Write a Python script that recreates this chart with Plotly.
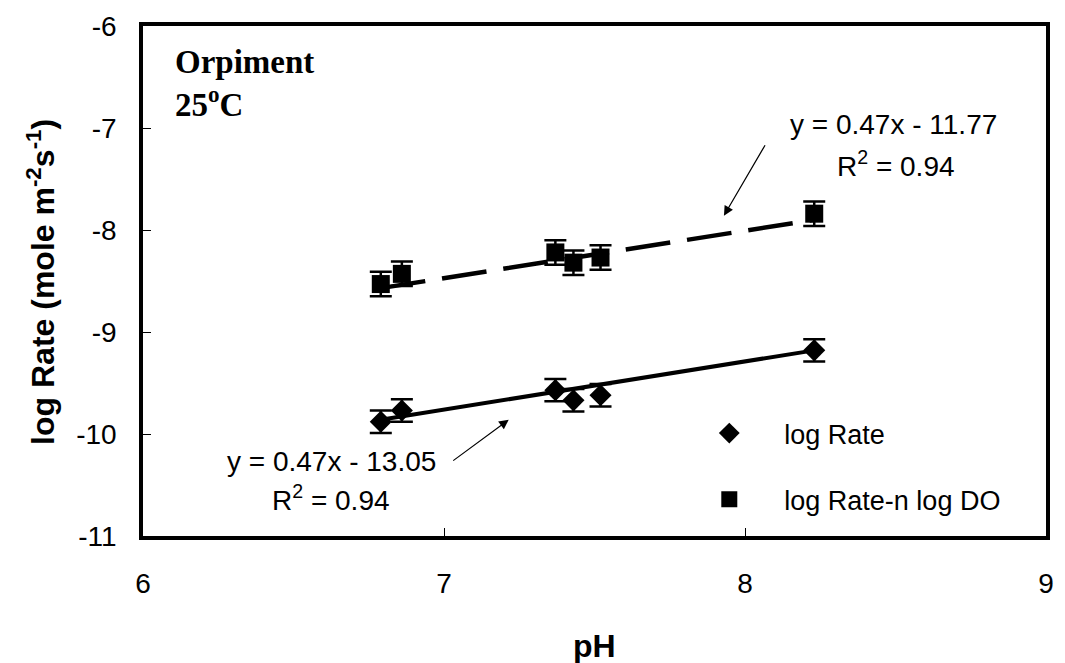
import plotly.graph_objects as go

# ---- data ----
ph = [6.79, 6.86, 7.37, 7.43, 7.52, 8.23]
log_rate = [-9.88, -9.77, -9.57, -9.67, -9.62, -9.18]
log_rate_err = [0.11, 0.11, 0.11, 0.11, 0.11, 0.11]
log_rate_do = [-8.53, -8.43, -8.22, -8.32, -8.27, -7.84]
log_rate_do_err = [0.12, 0.12, 0.12, 0.12, 0.12, 0.12]

trend_ph = [6.79, 8.23]
trend_rate = [-9.86, -9.18]
trend_rate_do = [-8.57, -7.90]

x_ticks = [6, 7, 8, 9]
y_ticks = [-11, -10, -9, -8, -7, -6]

W, H = 1065, 663
L, R, T, B = 143, 1054, 22, 536
SANS = "Liberation Sans, Arial, sans-serif"
SERIF = "Liberation Serif, Times New Roman, serif"


def px_x(p):
    return (p - L) / (R - L)


def px_y(p):
    return (B - p) / (B - T)


fig = go.Figure()

fig.add_trace(go.Scatter(
    x=trend_ph, y=trend_rate, mode="lines",
    line=dict(color="black", width=4), showlegend=False, hoverinfo="skip"))
fig.add_trace(go.Scatter(
    x=trend_ph, y=trend_rate_do, mode="lines",
    line=dict(color="black", width=4.5, dash="45px,17px"), showlegend=False, hoverinfo="skip"))

fig.add_trace(go.Scatter(
    x=ph, y=log_rate, mode="markers", name="log Rate", legendgroup="a",
    marker=dict(symbol="diamond", size=17, color="black"),
    error_y=dict(type="data", array=log_rate_err, color="black", thickness=2.5, width=11)))
fig.add_trace(go.Scatter(
    x=ph, y=log_rate_do, mode="markers", name="log Rate-n log DO", legendgroup="b",
    marker=dict(symbol="square", size=18, color="black"),
    error_y=dict(type="data", array=log_rate_do_err, color="black", thickness=2.5, width=11)))

ann = []
ann.append(dict(text="<b>Orpiment</b>", xref="paper", yref="paper", x=px_x(173), y=px_y(58),
                xanchor="left", yanchor="middle", showarrow=False,
                font=dict(family=SERIF, size=33, color="black")))
ann.append(dict(text="<b>25<sup>o</sup>C</b>", xref="paper", yref="paper", x=px_x(173), y=px_y(99),
                xanchor="left", yanchor="middle", showarrow=False,
                font=dict(family=SERIF, size=33, color="black")))

eq_font = dict(family=SANS, size=28, color="black")
ann.append(dict(text="y = 0.47x - 11.77", xref="paper", yref="paper", x=px_x(900), y=px_y(121),
                xanchor="center", yanchor="middle", showarrow=False, font=eq_font))
ann.append(dict(text="R<sup>2</sup> = 0.94", xref="paper", yref="paper", x=px_x(903), y=px_y(161),
                xanchor="center", yanchor="middle", showarrow=False, font=eq_font))
ann.append(dict(text="y = 0.47x - 13.05", xref="paper", yref="paper", x=px_x(333), y=px_y(461),
                xanchor="center", yanchor="middle", showarrow=False, font=eq_font))
ann.append(dict(text="R<sup>2</sup> = 0.94", xref="paper", yref="paper", x=px_x(333), y=px_y(498),
                xanchor="center", yanchor="middle", showarrow=False, font=eq_font))

# arrows
ann.append(dict(text="", x=7.93, y=-7.86, xref="x", yref="y", showarrow=True,
                ax=42, ay=-72, arrowhead=2, arrowsize=1.6, arrowwidth=1.2, arrowcolor="black"))
ann.append(dict(text="", x=7.215, y=-9.86, xref="x", yref="y", showarrow=True,
                ax=-57, ay=42, arrowhead=2, arrowsize=1.6, arrowwidth=1.2, arrowcolor="black"))

# axis titles
ann.append(dict(text="<b>log Rate (mole m<sup>-2</sup>s<sup>-1</sup>)</b>", xref="paper", yref="paper",
                x=px_x(40), y=px_y(280), xanchor="center", yanchor="middle", textangle=-90,
                showarrow=False, font=dict(family=SANS, size=32, color="black")))
ann.append(dict(text="<b>pH</b>", xref="paper", yref="paper", x=0.5, y=px_y(647),
                xanchor="center", yanchor="middle", showarrow=False,
                font=dict(family=SANS, size=32, color="black")))

fig.update_layout(
    width=W, height=H,
    margin=dict(l=L, r=W - R, t=T, b=H - B),
    paper_bgcolor="white", plot_bgcolor="white",
    font=dict(family=SANS, size=28, color="black"),
    annotations=ann,
    showlegend=True,
    legend=dict(x=px_x(679), y=px_y(408), xanchor="left", yanchor="top",
                bgcolor="rgba(0,0,0,0)", font=dict(family=SANS, size=27, color="black"),
                itemwidth=100, traceorder="grouped", tracegroupgap=28),
)
fig.update_xaxes(range=[6, 9], tickvals=x_ticks, ticktext=[str(v) for v in x_ticks],
                 showline=True, linecolor="black", linewidth=3.5, mirror=True,
                 ticks="inside", ticklen=8, tickwidth=1, tickcolor="black",
                 showgrid=False, zeroline=False, ticklabelstandoff=20,
                 tickfont=dict(family=SANS, size=28, color="black"))
fig.update_yaxes(range=[-11, -6], tickvals=y_ticks, ticktext=[str(v) for v in y_ticks],
                 showline=True, linecolor="black", linewidth=3.5, mirror=True,
                 ticks="inside", ticklen=8, tickwidth=1, tickcolor="black",
                 showgrid=False, zeroline=False, ticklabelstandoff=17,
                 tickfont=dict(family=SANS, size=28, color="black"))

fig.write_html("out.html")
